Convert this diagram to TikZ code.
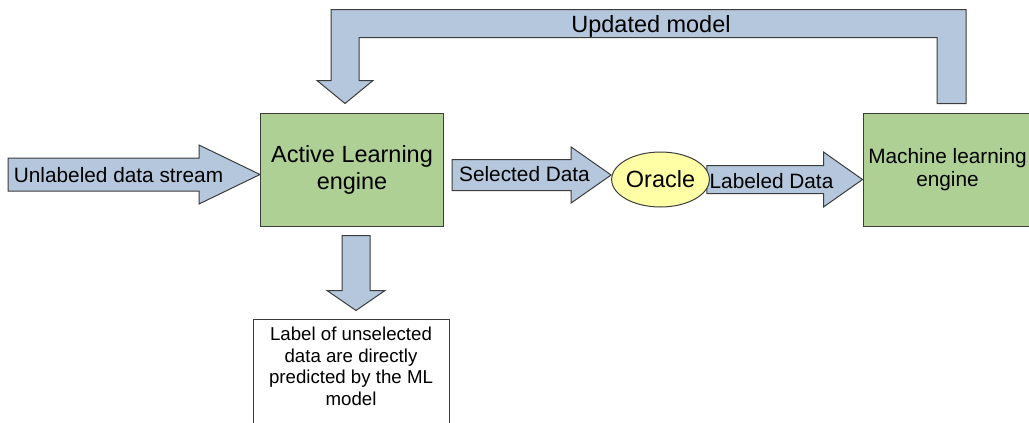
\documentclass[tikz,border=0pt]{standalone}
\usepackage{fontspec}
\setmainfont{Liberation Sans}
\usetikzlibrary{calc,shapes.geometric,backgrounds}

\definecolor{arrowblue}{HTML}{B4C7DC}
\definecolor{boxgreen}{HTML}{AFD095}
\definecolor{oracleyellow}{HTML}{FFFFA6}
\definecolor{edgegray}{HTML}{3C3C3C}

\newcommand{\bigfont}{\fontsize{17.6pt}{20.3pt}\selectfont}
\newcommand{\midfont}{\fontsize{15.6pt}{17.3pt}\selectfont}
\newcommand{\smallfont}{\fontsize{14pt}{16.1pt}\selectfont}

\tikzset{
  engine/.style={draw=edgegray, fill=boxgreen, line width=0.75pt, inner sep=0pt,
    minimum height=84.75pt, align=center, font=\bigfont},
  oracle/.style={ellipse, draw=edgegray, fill=oracleyellow, line width=0.75pt,
    inner sep=0pt, minimum width=62.25pt, minimum height=41.25pt, font=\bigfont},
  predbox/.style={draw=edgegray, line width=0.75pt, inner sep=0pt,
    minimum width=147pt, minimum height=83.25pt},
  predtext/.style={inner sep=0pt, align=center, font=\smallfont},
  flowlabel/.style={inner sep=0pt, text depth=0pt, font=\midfont},
  bigtext/.style={inner sep=0pt, text depth=0pt, font=\bigfont},
  blockarrow/.style={draw=edgegray, fill=arrowblue, line width=0.75pt, line join=miter}
}

% #1 start, #2 tip, #3 shaft half width, #4 head half width, #5 head length
\newcommand{\hblock}[5]{%
  \draw[blockarrow] ($(#1)+(0,-#3)$) -- ($(#2)+(-#5,-#3)$) -- ($(#2)+(-#5,-#4)$)
    -- (#2) -- ($(#2)+(-#5,#4)$) -- ($(#2)+(-#5,#3)$) -- ($(#1)+(0,#3)$) -- cycle;}

\begin{document}
\begin{tikzpicture}[x=0.75pt,y=-0.75pt]
  \useasboundingbox (0,0) rectangle (1029,422);

  % boxes
  \node[engine, minimum width=137.25pt] (ale) at (352,169.5) {Active Learning\\engine};
  \node[engine, minimum width=126.75pt, font=\midfont] (mle) at (947.5,169.5) {Machine learning\\engine};
  \node[oracle] (oracle) at (660.5,179.5) {Oracle};
  \node[predbox] (pred) at (351,374.5) {};
  \node[predtext] (predtext) at (351,366.5) {Label of unselected\\data are directly\\predicted by the ML\\model};

  % end points of the block arrows
  \coordinate (udsin) at (8,174.5);
  \coordinate (udstip) at ($(ale.west)+(0,5)$);
  \coordinate (selin) at ($(ale.east)+(8,5.5)$);
  \coordinate (seltip) at ($(oracle.west)+(0,-4.5)$);
  \coordinate (labin) at ($(oracle.east)+(-3,0)$);
  \coordinate (labtip) at ($(mle.west)+(0,10)$);
  \coordinate (downin) at ($(ale.south)+(4,9)$);
  \coordinate (downtip) at ($(pred.north)+(5,-8)$);
  \coordinate (fbfoot) at ($(mle.north)+(4,-9)$);
  \coordinate (fbtip) at ($(ale.north)+(-7,-9)$);

  \begin{scope}[on background layer]
    \hblock{udsin}{udstip}{16.5}{29.5}{61}
    \hblock{selin}{seltip}{15.5}{28}{40}
    \hblock{labin}{labtip}{14}{27.5}{39}

    \draw[blockarrow] ($(downin)+(-14,0)$) -- ($(downin)+(14,0)$) -- ($(downtip)+(14,-20)$)
      -- ($(downtip)+(29,-20)$) -- (downtip) -- ($(downtip)+(-29,-20)$)
      -- ($(downtip)+(-14,-20)$) -- cycle;

    \draw[blockarrow] ($(fbfoot)+(-14.5,0)$) -- ($(fbfoot)+(14.5,0)$)
      -- ($(fbfoot)+(14.5,-94)$) -- ($(fbtip)+(-14,-94)$)
      -- ($(fbtip)+(-14,-23)$) -- ($(fbtip)+(-28,-23)$) -- (fbtip)
      -- ($(fbtip)+(28,-23)$) -- ($(fbtip)+(14,-23)$)
      -- ($(fbtip)+(14,-66)$) -- ($(fbfoot)+(-14.5,-66)$) -- cycle;
  \end{scope}

  % arrow labels
  \node[flowlabel] (udstext) at (118.5,174.5) {Unlabeled data stream};
  \node[flowlabel] (seltext) at (524.5,174) {Selected Data};
  \node[flowlabel] (labtext) at (771.5,181) {Labeled Data};
  \node[bigtext] (updtext) at (651,24) {Updated model};

\end{tikzpicture}
\end{document}
